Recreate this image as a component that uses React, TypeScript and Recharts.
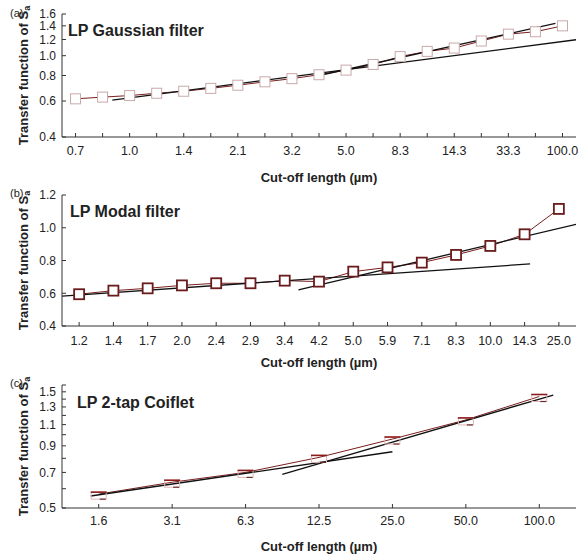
import React from 'react';
import { ComposedChart, Line, XAxis, YAxis } from 'recharts';

const FONT = '"Liberation Sans", Arial, Helvetica, sans-serif';
const INK = '#222';
const FRAME = '#333';

// (a) LP Gaussian filter — labels only on every other cut-off
const gaussLabels = ['0.7', '', '1.0', '', '1.4', '', '2.1', '', '3.2', '', '5.0', '', '8.3', '', '14.3', '', '33.3', '', '100.0'];
const gaussSa = [0.615, 0.627, 0.638, 0.655, 0.67, 0.692, 0.717, 0.745, 0.772, 0.807, 0.85, 0.906, 0.99, 1.05, 1.09, 1.18, 1.275, 1.31, 1.4];
const gaussFitLow = [{ x: 1.36, y: 0.606 }, { x: 18.5, y: 1.197 }];
const gaussFitHigh = [{ x: 9, y: 0.8 }, { x: 17.74, y: 1.44 }];
const gaussYTicks = [0.4, 0.6, 0.8, 1.0, 1.2, 1.4, 1.6];

// (b) LP Modal filter
const modalLabels = ['1.2', '1.4', '1.7', '2.0', '2.4', '2.9', '3.4', '4.2', '5.0', '5.9', '7.1', '8.3', '10.0', '14.3', '25.0'];
const modalSa = [0.594, 0.616, 0.63, 0.648, 0.661, 0.661, 0.677, 0.671, 0.732, 0.758, 0.787, 0.834, 0.889, 0.96, 1.115];
const modalFitLow = [{ x: -0.5, y: 0.583 }, { x: 13.16, y: 0.779 }];
const modalFitHigh = [{ x: 6.4, y: 0.62 }, { x: 14.5, y: 1.021 }];
const modalYTicks = [0.4, 0.6, 0.8, 1.0, 1.2];

// (c) LP 2-tap Coiflet
const coifLabels = ['1.6', '3.1', '6.3', '12.5', '25.0', '50.0', '100.0'];
const coifSa = [0.57, 0.638, 0.7, 0.807, 0.96, 1.15, 1.435];
const coifFitLow = [{ x: -0.11, y: 0.56 }, { x: 4.0, y: 0.851 }];
const coifFitHigh = [{ x: 2.5, y: 0.687 }, { x: 6.19, y: 1.455 }];
const coifYTicks = [0.5, 0.6, 0.7, 0.8, 0.9, 1.0, 1.1, 1.2, 1.3, 1.4, 1.5, 1.6];
const coifYShown = [0.5, 0.7, 0.9, 1.1, 1.3, 1.5];

const squareDot = (stroke: string, sw: number) => (props: any) => {
  const { cx, cy, index } = props;
  return <rect key={`sq-${index}`} x={cx - 5} y={cy - 5} width={10} height={10} fill="#fff" stroke={stroke} strokeWidth={sw} />;
};

const coifDot = (props: any) => {
  const { cx, cy, index } = props;
  return (
    <g key={`cf-${index}`}>
      <rect x={cx - 7.5} y={cy - 2} width={15} height={7} fill="none" stroke="#e2b6b6" strokeWidth={1} />
      <line x1={cx - 8} x2={cx + 8} y1={cy - 2} y2={cy - 2} stroke="#8b1c1c" strokeWidth={1.6} />
      <line x1={cx + 1} x2={cx + 7} y1={cy + 5} y2={cy + 5} stroke="#6a2a2a" strokeWidth={1.2} />
    </g>
  );
};

interface PanelProps {
  labels: string[];
  values: number[];
  fits: { x: number; y: number }[][];
  yTicks: number[];
  yShown: number[];
  logY: boolean;
  dot: any;
  height: number;
  top: number;
  xHeight: number;
  xTickMargin: number;
  xTitleY: number;
}

const Panel = ({ labels, values, fits, yTicks, yShown, logY, dot, height, top, xHeight, xTickMargin, xTitleY }: PanelProps) => {
  const data = values.map((v, i) => ({ x: i, y: v }));
  const idx = labels.map((_, i) => i);
  const xDomain = [-0.5, labels.length - 0.5];
  const yDomain = [yTicks[0], yTicks[yTicks.length - 1]];
  const midY = top + (height - top - xHeight) / 2;
  const tickStyle = { fontSize: 12.5, fill: INK, fontFamily: FONT };

  return (
    <ComposedChart width={581} height={height} data={data} margin={{ top, right: 5, left: 0, bottom: 0 }}>
      <XAxis
        type="number" dataKey="x" domain={xDomain} ticks={idx} interval={0} allowDataOverflow
        tickFormatter={(i: number) => labels[i] ?? ''}
        height={xHeight} tickSize={-4} tickMargin={xTickMargin}
        stroke={FRAME} tick={tickStyle}
        label={() => (
          <text x={319} y={xTitleY} textAnchor="middle" dominantBaseline="central" fontSize={13} fontWeight="bold" fill={INK} fontFamily={FONT}>
            Cut-off length (µm)
          </text>
        )}
      />
      <XAxis
        xAxisId="top" orientation="top" type="number" domain={xDomain} ticks={idx} interval={0} allowDataOverflow
        tickFormatter={() => ''} height={0} tickSize={-4} stroke={FRAME}
      />
      <YAxis
        type="number" scale={logY ? 'log' : 'linear'} domain={yDomain} ticks={yTicks} interval={0} allowDataOverflow
        tickFormatter={(v: number) => (yShown.includes(v) ? v.toFixed(1) : '')}
        width={62} tickSize={-4} tickMargin={10} stroke={FRAME} tick={{ ...tickStyle, fontSize: 12 }}
        label={() => (
          <text x={23} y={midY} transform={`rotate(-90, 23, ${midY})`} textAnchor="middle" dominantBaseline="central" fontSize={13} fontWeight="bold" fill={INK} fontFamily={FONT}>
            Transfer function of S<tspan fontSize={9} dy={4}>a</tspan>
          </text>
        )}
      />
      <YAxis
        yAxisId="right" orientation="right" type="number" scale={logY ? 'log' : 'linear'} domain={yDomain} ticks={yTicks} interval={0} allowDataOverflow
        tickFormatter={() => ''} width={0} tickSize={-4} stroke={FRAME}
      />
      <Line dataKey="y" stroke="#7a1f1f" strokeWidth={1} dot={dot} isAnimationActive={false} />
      {fits.map((f, i) => (
        <Line key={`fit-${i}`} data={f} dataKey="y" stroke="#111" strokeWidth={1.3} dot={false} isAnimationActive={false} />
      ))}
    </ComposedChart>
  );
};

const App = () => (
  <div style={{ position: 'absolute', left: 0, top: 0, width: 581, height: 557, background: '#fff', fontFamily: FONT }}>
    <div style={{ position: 'absolute', left: 0, top: 0 }}>
      <Panel labels={gaussLabels} values={gaussSa} fits={[gaussFitLow, gaussFitHigh]} yTicks={gaussYTicks} yShown={gaussYTicks}
        logY dot={squareDot('#c9a9a9', 1)} height={190} top={14} xHeight={53} xTickMargin={13} xTitleY={177} />
    </div>
    <div style={{ position: 'absolute', left: 0, top: 182 }}>
      <Panel labels={modalLabels} values={modalSa} fits={[modalFitLow, modalFitHigh]} yTicks={modalYTicks} yShown={modalYTicks}
        logY={false} dot={squareDot('#6a1b1b', 1.8)} height={190} top={13} xHeight={46} xTickMargin={14} xTitleY={180} />
    </div>
    <div style={{ position: 'absolute', left: 0, top: 372 }}>
      <Panel labels={coifLabels} values={coifSa} fits={[coifFitLow, coifFitHigh]} yTicks={coifYTicks} yShown={coifYShown}
        logY dot={coifDot} height={185} top={13} xHeight={49} xTickMargin={12.5} xTitleY={174} />
    </div>
    <svg width={581} height={557} style={{ position: 'absolute', left: 0, top: 0, pointerEvents: 'none' }} fontFamily={FONT} fill={INK}>
      <text x={10} y={17} fontSize={11}>(a)</text>
      <text x={10} y={197} fontSize={11}>(b)</text>
      <text x={10} y={387} fontSize={11}>(c)</text>
      <text x={68} y={36} fontSize={16} fontWeight="bold">LP Gaussian filter</text>
      <text x={70} y={217} fontSize={16} fontWeight="bold">LP Modal filter</text>
      <text x={77} y={408} fontSize={16} fontWeight="bold">LP 2-tap Coiflet</text>
    </svg>
  </div>
);

export default App;
